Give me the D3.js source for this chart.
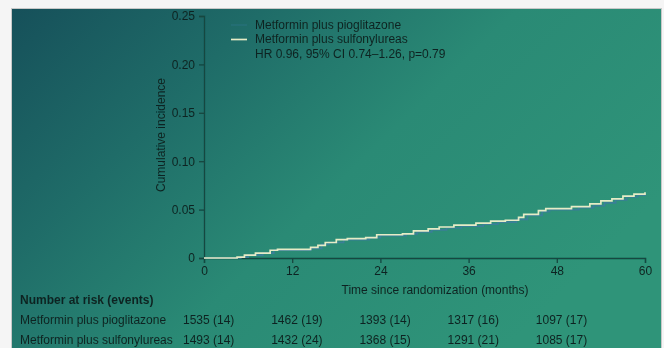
<!DOCTYPE html>
<html>
<head>
<meta charset="utf-8">
<script src="https://cdn.jsdelivr.net/npm/d3@7"></script>
<style>
  html, body { margin: 0; padding: 0; background: #f5f5f5; }
  svg { display: block; font-family: "Liberation Sans", Arial, sans-serif; }
</style>
</head>
<body>
<svg id="chart" width="664" height="348"></svg>
<script>
// Cumulative incidence step curves (month, cumulative incidence)
const pioMonths = [0, 5, 6, 8, 9.5, 14.5, 16, 17, 19, 22.5, 24, 27.5, 29, 31, 33, 35, 38, 40, 42.5, 44, 46, 47, 51, 53, 54.5, 56, 57.5, 59, 60];
const pioValues = [0, 0.001, 0.003, 0.005, 0.008, 0.010, 0.014, 0.016, 0.019, 0.021, 0.023, 0.025, 0.027, 0.029, 0.031, 0.033, 0.035, 0.037, 0.040, 0.044, 0.048, 0.050, 0.052, 0.054, 0.057, 0.060, 0.063, 0.065, 0.067];

const sulMonths = [0, 4.5, 5.5, 7, 9, 10, 14.5, 15.5, 16.5, 18, 19.5, 22, 23.5, 27, 28.5, 30.5, 32, 34, 37, 39, 41, 42.8, 43.5, 45.5, 46.5, 50, 52.5, 54, 55.5, 57, 58.5, 60];
const sulValues = [0, 0.001, 0.003, 0.005, 0.008, 0.009, 0.011, 0.013, 0.016, 0.019, 0.020, 0.021, 0.024, 0.025, 0.028, 0.030, 0.032, 0.034, 0.036, 0.038, 0.039, 0.042, 0.045, 0.049, 0.051, 0.053, 0.056, 0.059, 0.061, 0.064, 0.066, 0.068];

const seriesNames = ["Metformin plus pioglitazone", "Metformin plus sulfonylureas"];
const hrText = "HR 0.96, 95% CI 0.74\u20131.26, p=0.79";

const xTicks = [0, 12, 24, 36, 48, 60];
const yTicks = [0, 0.05, 0.10, 0.15, 0.20, 0.25];
const yTickLabels = ["0", "0.05", "0.10", "0.15", "0.20", "0.25"];

// Number at risk table
const riskMonths = [0, 12, 24, 36, 48];
const pioAtRisk = [1535, 1462, 1393, 1317, 1097];
const pioEvents = [14, 19, 14, 16, 17];
const sulAtRisk = [1493, 1432, 1368, 1291, 1085];
const sulEvents = [14, 24, 15, 21, 17];

const svg = d3.select("#chart");
const textColor = "#0e2421";
const axisColor = "#144640";
const fs = 12;

// Panel background
const defs = svg.append("defs");
const grad = defs.append("linearGradient")
  .attr("id", "bg").attr("x1", "0").attr("y1", "0").attr("x2", "1").attr("y2", "0.55");
grad.append("stop").attr("offset", "0").attr("stop-color", "#16505a");
grad.append("stop").attr("offset", "0.3").attr("stop-color", "#1f6c68");
grad.append("stop").attr("offset", "0.6").attr("stop-color", "#2a8a75");
grad.append("stop").attr("offset", "1").attr("stop-color", "#2f9479");

const soft = defs.append("filter").attr("id", "soft")
  .attr("x", "-5%").attr("y", "-5%").attr("width", "110%").attr("height", "110%");
soft.append("feGaussianBlur").attr("stdDeviation", 0.5);

svg.append("rect").attr("x", 0).attr("y", 0).attr("width", 664).attr("height", 348).attr("fill", "#f5f5f5");
svg.append("rect").attr("x", 11.5).attr("y", 8.5).attr("width", 650).attr("height", 345)
  .attr("fill", "url(#bg)").attr("stroke", "#c8c8c8").attr("stroke-width", 1);

const g = svg.append("g").attr("filter", "url(#soft)");

const x = d3.scaleLinear().domain([0, 60]).range([204, 645]);
const y = d3.scaleLinear().domain([0, 0.25]).range([258, 16]);

// Y axis
const yAxis = g.append("g").attr("transform", "translate(204,0)")
  .call(d3.axisLeft(y).tickValues(yTicks).tickSize(5).tickPadding(4)
    .tickFormat((d, i) => yTickLabels[i]));
// X axis
const xAxis = g.append("g").attr("transform", "translate(0,258)")
  .call(d3.axisBottom(x).tickValues(xTicks).tickSize(5).tickPadding(3));

[yAxis, xAxis].forEach(a => {
  a.select(".domain").attr("stroke", axisColor).attr("stroke-width", 1.3);
  a.selectAll(".tick line").attr("stroke", axisColor).attr("stroke-width", 1.3);
  a.selectAll(".tick text").attr("fill", textColor).attr("font-size", fs)
    .attr("font-family", "Liberation Sans, Arial, sans-serif");
});

g.append("text").attr("x", 435).attr("y", 294).attr("text-anchor", "middle")
  .attr("font-size", fs).attr("fill", textColor).text("Time since randomization (months)");
g.append("text").attr("transform", "translate(165,135) rotate(-90)").attr("text-anchor", "middle")
  .attr("font-size", fs).attr("fill", textColor).text("Cumulative incidence");

// Curves
const line = d3.line().x(d => x(d[0])).y(d => y(d[1])).curve(d3.curveStepAfter);
const pioData = pioMonths.map((m, i) => [m, pioValues[i]]);
const sulData = sulMonths.map((m, i) => [m, sulValues[i]]);
const colors = ["#3a7f98", "#e6ecc6"];

g.append("path").datum(pioData).attr("d", line)
  .attr("fill", "none").attr("stroke", colors[0]).attr("stroke-width", 1.7);
g.append("path").datum(sulData).attr("d", line)
  .attr("fill", "none").attr("stroke", colors[1]).attr("stroke-width", 1.7);

// Legend
const legend = g.append("g");
seriesNames.forEach((name, i) => {
  const ly = 24 + i * 14.5;
  legend.append("line").attr("x1", 231).attr("x2", 247).attr("y1", ly + 1).attr("y2", ly + 1)
    .attr("stroke", colors[i]).attr("stroke-width", 1.7).attr("opacity", i === 0 ? 0.3 : 1);
  legend.append("text").attr("x", 255).attr("y", ly + 4.5).attr("font-size", fs)
    .attr("fill", textColor).text(name);
});
legend.append("text").attr("x", 255).attr("y", 24 + 2 * 14.5 + 4.5).attr("font-size", fs)
  .attr("fill", textColor).text(hrText);

// Number at risk table
const table = g.append("g");
table.append("text").attr("x", 20).attr("y", 304).attr("font-size", fs).attr("font-weight", "bold")
  .attr("fill", textColor).text("Number at risk (events)");
const rows = [
  { name: seriesNames[0], atRisk: pioAtRisk, events: pioEvents, y: 323.5 },
  { name: seriesNames[1], atRisk: sulAtRisk, events: sulEvents, y: 343.5 }
];
rows.forEach(r => {
  table.append("text").attr("x", 20).attr("y", r.y).attr("font-size", fs)
    .attr("fill", textColor).text(r.name);
  riskMonths.forEach((m, i) => {
    table.append("text").attr("x", x(m) - 21).attr("y", r.y).attr("font-size", fs)
      .attr("fill", textColor).text(`${r.atRisk[i]} (${r.events[i]})`);
  });
});
</script>
</body>
</html>
